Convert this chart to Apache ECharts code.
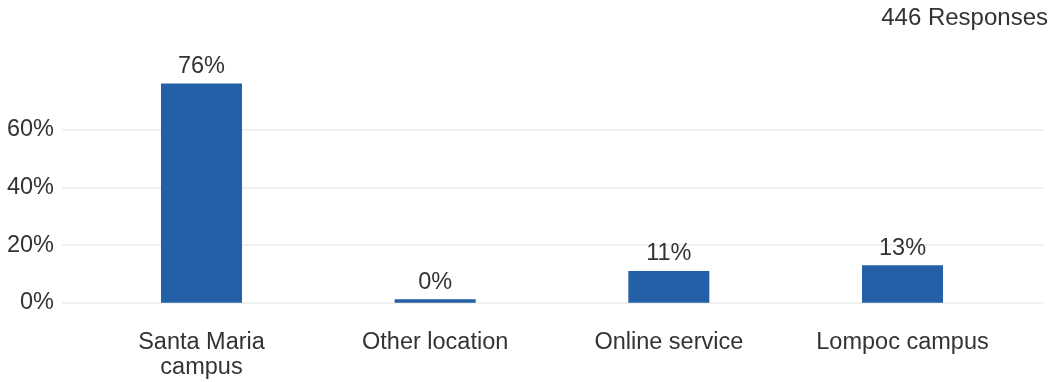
<!DOCTYPE html>
<html>
<head>
<meta charset="utf-8">
<script src="https://cdn.jsdelivr.net/npm/echarts@6/dist/echarts.min.js"></script>
<style>
  html, body { margin: 0; padding: 0; background: #fff; }
  #chart { width: 1062px; height: 382px; }
</style>
</head>
<body>
<div id="chart"></div>
<script>
// Survey: where respondents receive service
const categories = ['Santa Maria\ncampus', 'Other location', 'Online service', 'Lompoc campus'];
const shares = [76, 0, 11, 13];          // percent of responses
const yTickMax = 60;                     // highest gridline (percent)
const yTickStep = 20;                    // gridline spacing (percent)
const responseCount = 446;

const FONT = '"Liberation Sans", Arial, sans-serif';
const TEXT = '#333333';
const BAR = '#2360a7';
const Y_MAX = 76;                         // bar scale top

// Both grids share the same baseline; pixels per percent is identical.
const BASE_Y = 302.7;                    // y of 0%
const TOP_Y = 83.6;                      // y of Y_MAX
const pxPerPct = (BASE_Y - TOP_Y) / Y_MAX;

const chart = echarts.init(document.getElementById('chart'), null, { renderer: 'canvas' });

chart.setOption({
  animation: false,
  backgroundColor: '#ffffff',
  textStyle: { fontFamily: FONT },
  title: {
    text: responseCount + ' Responses',
    right: 14,
    top: 6,
    padding: 0,
    textStyle: { fontFamily: FONT, fontSize: 24, fontWeight: 'normal', color: TEXT }
  },
  grid: [
    // gridlines and y labels (0–60%)
    { left: 62, right: 19, top: BASE_Y - yTickMax * pxPerPct, bottom: 382 - BASE_Y, containLabel: false },
    // bars and category labels (0–76%)
    { left: 84.65, right: 42.65, top: TOP_Y, bottom: 382 - BASE_Y, containLabel: false }
  ],
  xAxis: [
    { gridIndex: 0, type: 'category', data: [''], show: false },
    {
      gridIndex: 1,
      type: 'category',
      data: categories,
      axisLine: { show: false },
      axisTick: { show: false },
      axisLabel: {
        interval: 0,
        margin: 27,
        color: TEXT,
        fontFamily: FONT,
        fontSize: 23.5,
        lineHeight: 25
      }
    }
  ],
  yAxis: [
    {
      gridIndex: 0,
      type: 'value',
      min: 0,
      max: yTickMax,
      interval: yTickStep,
      axisLine: { show: false },
      axisTick: { show: false },
      splitLine: { lineStyle: { color: '#ebebeb', width: 1.6 } },
      axisLabel: {
        margin: 8,
        padding: [3, 0, 0, 0],
        color: TEXT,
        fontFamily: FONT,
        fontSize: 23.5,
        formatter: v => v + '%'
      }
    },
    {
      gridIndex: 1,
      type: 'value',
      min: 0,
      max: Y_MAX,
      show: false,
      splitLine: { show: false }
    }
  ],
  series: [
    {
      type: 'bar',
      xAxisIndex: 1,
      yAxisIndex: 1,
      data: shares,
      barWidth: 81,
      barMinHeight: 3.5,
      itemStyle: { color: BAR },
      label: {
        show: true,
        position: 'top',
        distance: 5,
        color: TEXT,
        fontFamily: FONT,
        fontSize: 23.5,
        formatter: p => p.value + '%'
      }
    }
  ]
});
</script>
</body>
</html>
